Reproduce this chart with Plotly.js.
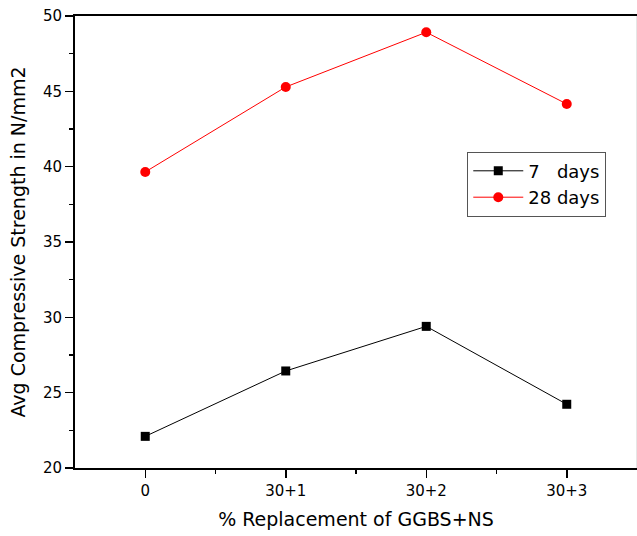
<!DOCTYPE html>
<html>
<head>
<meta charset="utf-8">
<script src="https://cdn.plot.ly/plotly-3.0.1.min.js"></script>
<style>html,body{margin:0;padding:0;background:#fff;}#chart{width:637px;height:536px;}</style>
</head>
<body>
<div id="chart"></div>
<script>
const categories = ["0", "30+1", "30+2", "30+3"];
const days7 = [22.1, 26.44, 29.4, 24.23];
const days28 = [39.65, 45.29, 48.92, 44.16];
const seriesNames = ["7\u00a0\u00a0\u00a0days", "28 days"];
const yTicks = [20, 25, 30, 35, 40, 45, 50];

const idx = categories.map((c, i) => i);
const font = "DejaVu Sans, sans-serif";

const traces = [
  {
    x: idx, y: days7, name: seriesNames[0], type: "scatter", mode: "lines+markers",
    line: {color: "#000000", width: 1},
    marker: {symbol: "square", size: 9, color: "#000000"}
  },
  {
    x: idx, y: days28, name: seriesNames[1], type: "scatter", mode: "lines+markers",
    line: {color: "#ff0000", width: 1},
    marker: {symbol: "circle", size: 10, color: "#ff0000"}
  }
];

const layout = {
  width: 637, height: 536,
  margin: {l: 75, r: 0, t: 16, b: 68, pad: 0},
  paper_bgcolor: "#ffffff", plot_bgcolor: "#ffffff",
  font: {family: font, size: 15, color: "#000"},
  showlegend: true,
  legend: {
    x: 0.698, y: 0.7, xanchor: "left", yanchor: "top",
    bordercolor: "#555", borderwidth: 1, bgcolor: "#fff",
    font: {family: font, size: 18, color: "#000"},
    tracegroupgap: 0, itemwidth: 50
  },
  xaxis: {
    range: [-0.5, 3.5], tickvals: idx, ticktext: categories,
    showline: true, linecolor: "#000", linewidth: 2, mirror: true,
    ticks: "outside", ticklen: 8, tickwidth: 1.5, tickcolor: "#000",
    minor: {tickvals: [0.5, 1.5, 2.5], ticks: "outside", ticklen: 4, tickwidth: 1.5, tickcolor: "#000"},
    showgrid: false, zeroline: false,
    tickfont: {family: font, size: 15},
    title: {text: "% Replacement of GGBS+NS", font: {family: font, size: 19}, standoff: 14}
  },
  yaxis: {
    range: [20, 50], tickvals: yTicks,
    showline: true, linecolor: "#000", linewidth: 2,
    ticks: "outside", ticklen: 8, tickwidth: 1.5, tickcolor: "#000",
    minor: {dtick: 2.5, ticks: "outside", ticklen: 4, tickwidth: 1.5, tickcolor: "#000"},
    showgrid: false, zeroline: false,
    tickfont: {family: font, size: 15},
    title: {text: "Avg Compressive Strength in N/mm2", font: {family: font, size: 19}, standoff: 12}
  },
  shapes: [
    {type: "line", xref: "paper", yref: "paper", x0: 1, x1: 1, y0: 0, y1: 1,
     line: {color: "#cccccc", width: 1}}
  ]
};

Plotly.newPlot("chart", traces, layout, {displayModeBar: false, staticPlot: true});
</script>
</body>
</html>
